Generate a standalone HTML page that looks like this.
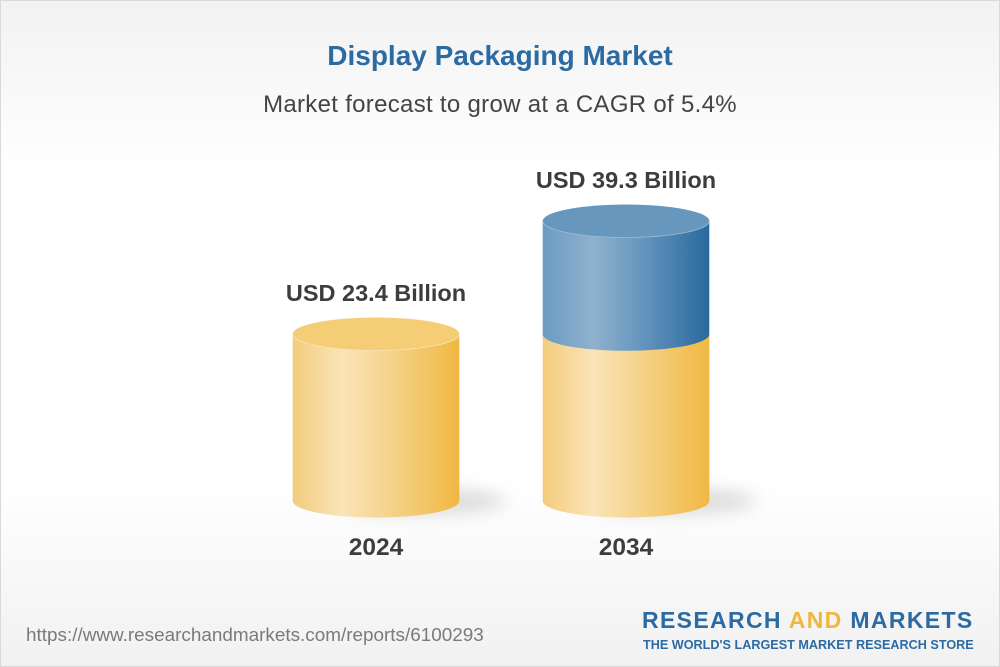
<!DOCTYPE html>
<html>
<head>
<meta charset="utf-8">
<style>
  html,body{margin:0;padding:0;}
  body{width:1000px;height:667px;overflow:hidden;font-family:"Liberation Sans",Arial,sans-serif;}
  .frame{position:relative;width:998px;height:665px;border:1px solid #d9d9d9;
    background:linear-gradient(to bottom,#f2f2f2 0px,#fdfdfd 150px,#ffffff 170px,#ffffff 480px,#f9f9f9 560px,#f1f1f1 665px);}
  .t{position:absolute;left:0;width:998px;text-align:center;white-space:nowrap;}
  .title{top:38px;font-size:28px;font-weight:bold;color:#2b6aa2;line-height:34px;}
  .sub{top:89px;font-size:24px;color:#444;line-height:30px;letter-spacing:0.3px;}
  .lbl{position:absolute;font-size:23.5px;font-weight:bold;color:#3d3d3d;white-space:nowrap;text-align:center;width:300px;line-height:28px;}
  .yr{position:absolute;font-size:24.5px;font-weight:bold;color:#3d3d3d;text-align:center;width:200px;line-height:30px;}
  .url{position:absolute;left:25px;top:624px;font-size:18.9px;color:#7a7a7a;line-height:22px;white-space:nowrap;}
  .logo1{position:absolute;left:641px;top:606px;font-size:23px;font-weight:bold;color:#2b6aa2;letter-spacing:1.35px;line-height:26px;white-space:nowrap;}
  .logo1 span{color:#f0b73e;}
  .logo2{position:absolute;left:642px;top:637px;font-size:12.65px;font-weight:bold;color:#2b6aa2;letter-spacing:0px;line-height:15px;white-space:nowrap;}
</style>
</head>
<body>
<div class="frame">
  <div class="t title">Display Packaging Market</div>
  <div class="t sub">Market forecast to grow at a CAGR of 5.4%</div>

  <svg width="998" height="665" style="position:absolute;left:0;top:0">
    <defs>
      <linearGradient id="gy" x1="0" x2="1" y1="0" y2="0">
        <stop offset="0" stop-color="#f3cc7c"/>
        <stop offset="0.3" stop-color="#fae4b7"/>
        <stop offset="0.6" stop-color="#f5d288"/>
        <stop offset="1" stop-color="#f0b842"/>
      </linearGradient>
      <linearGradient id="gb" x1="0" x2="1" y1="0" y2="0">
        <stop offset="0" stop-color="#6a9bc3"/>
        <stop offset="0.3" stop-color="#8fb1cd"/>
        <stop offset="0.58" stop-color="#6797bf"/>
        <stop offset="1" stop-color="#29699f"/>
      </linearGradient>
      <filter id="blur" x="-50%" y="-100%" width="200%" height="300%">
        <feGaussianBlur stdDeviation="8"/>
      </filter>
    </defs>

    <!-- shadows -->
    <ellipse cx="420" cy="500" rx="85" ry="14" fill="#c4c4c4" opacity="0.55" filter="url(#blur)"/>
    <ellipse cx="670" cy="500" rx="85" ry="14" fill="#c4c4c4" opacity="0.55" filter="url(#blur)"/>

    <!-- cylinder 1 -->
    <path d="M291.7 333 L291.7 500 A83.3 16.5 0 0 0 458.3 500 L458.3 333 Z" fill="url(#gy)"/>
    <ellipse cx="375" cy="333" rx="83.3" ry="16.5" fill="#f5cd77"/>
    <path d="M291.7 333 A83.3 16.5 0 0 0 458.3 333" fill="none" stroke="#fbe3b0" stroke-width="0.8"/>

    <!-- cylinder 2 -->
    <path d="M541.7 333.3 L541.7 500 A83.3 16.5 0 0 0 708.3 500 L708.3 333.3 Z" fill="url(#gy)"/>
    <path d="M541.7 220 L541.7 333.3 A83.3 16.5 0 0 0 708.3 333.3 L708.3 220 Z" fill="url(#gb)"/>
    <ellipse cx="625" cy="220" rx="83.3" ry="16.5" fill="#6797bd"/>
    <path d="M541.7 220 A83.3 16.5 0 0 0 708.3 220" fill="none" stroke="#9dbdd6" stroke-width="0.8"/>
  </svg>

  <div class="lbl" style="left:225px;top:278px;">USD 23.4 Billion</div>
  <div class="lbl" style="left:475px;top:165px;">USD 39.3 Billion</div>

  <div class="yr" style="left:275px;top:532px;">2024</div>
  <div class="yr" style="left:525px;top:532px;">2034</div>

  <div class="url">https://www.researchandmarkets.com/reports/6100293</div>
  <div class="logo1">RESEARCH <span>AND</span> MARKETS</div>
  <div class="logo2">THE WORLD'S LARGEST MARKET RESEARCH STORE</div>
</div>
</body>
</html>
